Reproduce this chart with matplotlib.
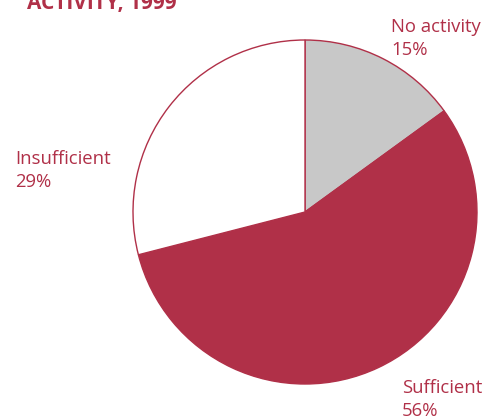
import matplotlib
matplotlib.use("Agg")
import matplotlib.pyplot as plt

# physical activity shares, 1999
labels = ["No activity", "Sufficient", "Insufficient"]
shares = [15, 56, 29]
colors = ["#c8c8c8", "#b03048", "#ffffff"]

RED = "#b03048"
W, H = 494, 419

plt.rcParams['font.family'] = ['Open Sans', 'DejaVu Sans']

fig = plt.figure(figsize=(W / 100, H / 100), dpi=100)
ax = fig.add_axes([0, 0, 1, 1])
ax.set_xlim(0, W)
ax.set_ylim(0, H)
ax.set_aspect('equal')
ax.axis('off')

ax.pie(shares, colors=colors, startangle=90, counterclock=False,
       center=(305, H - 212), radius=172,
       wedgeprops=dict(edgecolor=RED, linewidth=1))
ax.set_xlim(0, W)
ax.set_ylim(0, H)

# labels: (left x, baseline of the second line) in pixels from top-left
label_pos = {"No activity": (391, 55), "Sufficient": (402, 416), "Insufficient": (15, 187)}
for lab, val in zip(labels, shares):
    x, y = label_pos[lab]
    ax.text(x, H - y, f"{lab}\n{val}%", color=RED, fontsize=13.3,
            ha='left', va='baseline', linespacing=1.35)

fig.text(27 / W, 1 - 9 / H, "ACTIVITY, 1999", color=RED, fontsize=15,
         fontweight='bold', ha='left', va='baseline')

fig.savefig("out.png", dpi=100)
